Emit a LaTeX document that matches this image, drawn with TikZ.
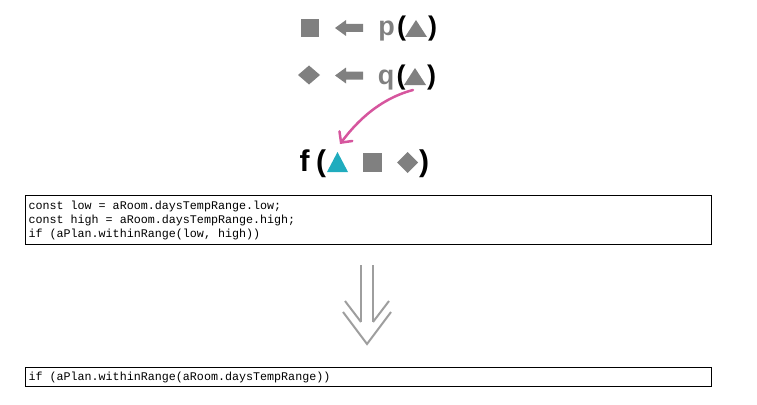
\documentclass[tikz,border=0pt]{standalone}
\usepackage{fontspec}
\setmainfont{Liberation Sans}
\newfontfamily\codefont{Liberation Mono}
\newcommand\csp{\hbox to 0.6em{}}
\usetikzlibrary{arrows.meta}
\definecolor{symgray}{RGB}{128,128,128}
\definecolor{arrgray}{RGB}{158,158,158}
\definecolor{tealc}{RGB}{32,172,190}
\definecolor{pinkc}{RGB}{214,86,158}
\begin{document}
\begin{tikzpicture}[x=1pt,y=-1pt,
  lblA/.style={inner sep=0pt, anchor=base, font=\fontsize{27}{30}\bfseries\selectfont},
  lblB/.style={inner sep=0pt, anchor=base, font=\fontsize{30}{33}\bfseries\selectfont},
  codebox/.style={draw=black, line width=1pt, anchor=north west, inner xsep=3pt, inner ysep=0pt,
    text width=680pt, align=left, font=\fontsize{11.7}{14}\codefont\selectfont},
  dbl/.style={draw=arrgray, line width=2pt},
  sym/.style={fill=symgray, draw=none}
]
\useasboundingbox (0,0) rectangle (757,404);

% Row 1
\fill[sym] (301,19) rectangle (319,37);
\fill[sym] (335,28) -- (346,20) -- (346,24) -- (363,24) -- (363,32) -- (346,32) -- (346,36) -- cycle;
\node[lblA, text=symgray] (p) at (386.5,36) {p};
\node[lblA] (pl1) at (401.5,36) {(};
\fill[sym] (405,37) -- (416,20) -- (427,37) -- cycle;
\node[lblA] (pr1) at (432.5,36) {)};

% Row 2
\fill[sym] (298,75) -- (309,65.5) -- (320,75) -- (309,84.5) -- cycle;
\fill[sym] (335,75.5) -- (346,67.5) -- (346,71.5) -- (363,71.5) -- (363,79.5) -- (346,79.5) -- (346,83.5) -- cycle;
\node[lblA, text=symgray] (q) at (386,84) {q};
\node[lblA] (pl2) at (401,84) {(};
\fill[sym] (404,85) -- (415,68) -- (426,85) -- cycle;
\node[lblA] (pr2) at (431.5,84) {)};

% Row 3
\node[lblB] (f) at (304.5,171) {f};
\node[lblB] (pl3) at (321,171) {(};
\fill[tealc] (327,172) -- (337.5,152) -- (348,172) -- cycle;
\fill[sym] (363,153) rectangle (382,172);
\fill[sym] (397,162.5) -- (407.5,152) -- (418,162.5) -- (407.5,173) -- cycle;
\node[lblB] (pr3) at (424,171) {)};

% pink curved arrow
\coordinate (ps) at (413,90);
\coordinate (pe) at (340,144);
\draw[pinkc, line width=2.5pt, line cap=round, -{Straight Barb[length=8pt,width=16pt,line cap=round]}]
  (ps) .. controls (375,100) and (352,128) .. (pe);

% code boxes
\node[codebox, minimum height=49pt] (box1) at (25,195) {const\csp low\csp=\csp aRoom.daysTempRange.low;\\const\csp high\csp=\csp aRoom.daysTempRange.high;\\if\csp(aPlan.withinRange(low,\csp high))};
\node[codebox, minimum height=19pt] (box2) at (25,367) {if\csp(aPlan.withinRange(aRoom.daysTempRange))};

% double arrow
\coordinate (a1) at (361,265);
\coordinate (a2) at (361,322);
\coordinate (b1) at (373,265);
\coordinate (b2) at (373,322);
\coordinate (il) at (345,301);
\coordinate (ir) at (389,301);
\coordinate (ol) at (343,312);
\coordinate (ot) at (367,344);
\coordinate (or) at (391,312);
\draw[dbl] (a1) -- (a2);
\draw[dbl] (b1) -- (b2);
\draw[dbl] (il) -- (a2);
\draw[dbl] (ir) -- (b2);
\draw[dbl] (ol) -- (ot) -- (or);
\end{tikzpicture}
\end{document}
